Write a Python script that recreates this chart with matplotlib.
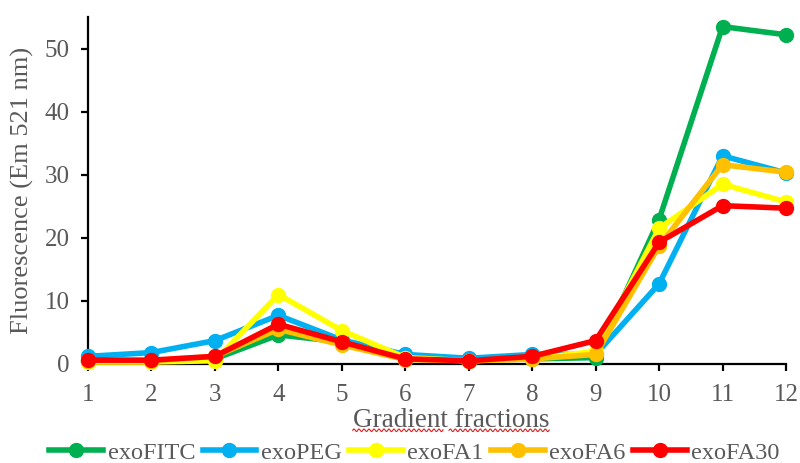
import numpy as np
import matplotlib
matplotlib.use('Agg')
import matplotlib.pyplot as plt

plt.rcParams['font.family'] = ['Liberation Serif', 'DejaVu Serif']

fractions = [1, 2, 3, 4, 5, 6, 7, 8, 9, 10, 11, 12]
exo_fitc = [0.5, 0.5, 0.8, 4.6, 3.5, 0.8, 0.5, 0.8, 1.0, 22.9, 53.5, 52.2]
exo_peg = [1.2, 1.8, 3.7, 7.7, 3.8, 1.5, 0.9, 1.5, 1.5, 12.7, 33.0, 30.3]
exo_fa1 = [0.3, 0.3, 0.5, 11.0, 5.3, 1.0, 0.5, 0.8, 2.0, 21.5, 28.5, 25.7]
exo_fa6 = [0.5, 0.5, 1.2, 5.5, 3.0, 0.7, 0.5, 0.8, 1.5, 18.7, 31.6, 30.4]
exo_fa30 = [0.6, 0.6, 1.2, 6.3, 3.5, 0.8, 0.5, 1.2, 3.7, 19.3, 25.1, 24.7]

series = [
    ('exoFITC', exo_fitc, '#00B050'),
    ('exoPEG', exo_peg, '#00B0F0'),
    ('exoFA1', exo_fa1, '#FFFF00'),
    ('exoFA6', exo_fa6, '#FFC000'),
    ('exoFA30', exo_fa30, '#FF0000'),
]

txt = '#595959'

fig = plt.figure(figsize=(8, 4.63), dpi=100)
ax = fig.add_axes([0.11, 0.214, 0.8725, 0.749])

for name, vals, col in series:
    ax.plot(fractions, vals, '-o', color=col, lw=4, ms=10, label=name,
            clip_on=False, zorder=3)

ax.set_xlim(1, 12)
ax.set_ylim(0, 55)
ax.set_xticks(fractions)
ax.set_yticks([0, 10, 20, 30, 40, 50])
for s in ['top', 'right']:
    ax.spines[s].set_visible(False)
for s in ['left', 'bottom']:
    ax.spines[s].set_linewidth(1.6)
ax.tick_params(axis='both', which='major', labelsize=18, labelcolor=txt,
               width=1.6, length=5, direction='out')
ax.tick_params(axis='x', pad=9.5)
ax.tick_params(axis='y', pad=8)

ax.set_ylabel('Fluorescence (Em 521 nm)', fontsize=19, color=txt)
ax.yaxis.set_label_coords(-0.077, 0.5)
xl = ax.set_xlabel('Gradient fractions', fontsize=19.5, color=txt)
ax.xaxis.set_label_coords(0.52, -0.128)

ax.legend(loc='center', bbox_to_anchor=(0.468, -0.256), ncol=5,
          frameon=False, fontsize=17.5, labelcolor=txt, handlelength=2.2,
          handletextpad=0.2, columnspacing=0.3, borderaxespad=0,
          borderpad=0)

# squiggly underline under the axis title words
fig.canvas.draw()
bb = xl.get_window_extent()
W, H = fig.bbox.width, fig.bbox.height
word_split = bb.x0 + (bb.x1 - bb.x0) * 0.475
for x0, x1 in [(bb.x0, word_split - 3), (word_split + 3, bb.x1)]:
    xs = np.linspace(x0, x1, 200)
    ys = bb.y0 + 3 + 1.3 * np.sin((xs - x0) * 2 * np.pi / 5.0)
    fig.add_artist(plt.Line2D(xs / W, ys / H, color='#E02020', lw=0.8))

fig.savefig('out.png', dpi=100)
